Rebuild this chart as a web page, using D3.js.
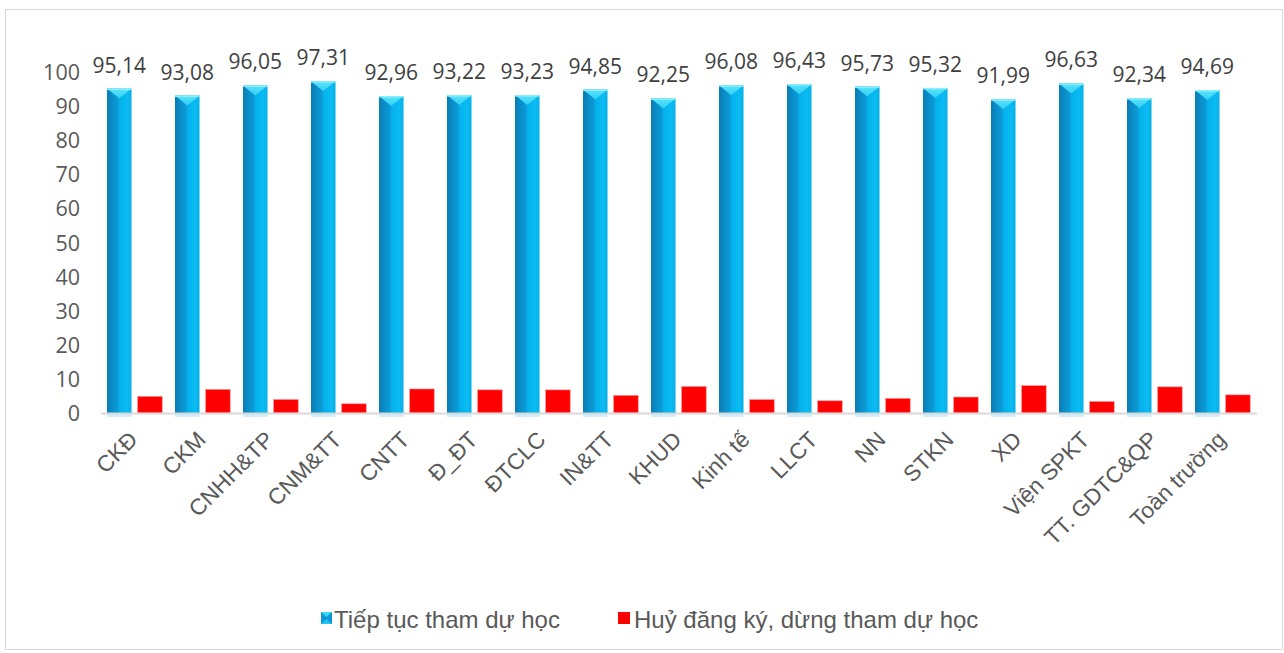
<!DOCTYPE html>
<html>
<head>
<meta charset="utf-8">
<script src="https://cdn.jsdelivr.net/npm/d3@7"></script>
<style>
  html, body { margin: 0; padding: 0; background: #ffffff; }
  svg { display: block; }
</style>
</head>
<body>
<svg id="chart" width="1284" height="653"></svg>
<script>
// Units (faculties / centres) shown along the x axis
const categories = ["CKĐ", "CKM", "CNHH&TP", "CNM&TT", "CNTT", "Đ_ĐT", "ĐTCLC", "IN&TT", "KHUD",
  "Kinh tế", "LLCT", "NN", "STKN", "XD", "Viện SPKT", "TT. GDTC&QP", "Toàn trường"];

// Percentage of students continuing their studies
const continuing = [95.14, 93.08, 96.05, 97.31, 92.96, 93.22, 93.23, 94.85, 92.25,
  96.08, 96.43, 95.73, 95.32, 91.99, 96.63, 92.34, 94.69];

// Percentage of students cancelling registration / stopping
const stopped = [4.86, 6.92, 3.95, 2.69, 7.04, 6.78, 6.77, 5.15, 7.75,
  3.92, 3.57, 4.27, 4.68, 8.01, 3.37, 7.66, 5.31];

const seriesNames = ["Tiếp tục tham dự học", "Huỷ đăng ký, dừng tham dự học"];
const yTicks = [0, 10, 20, 30, 40, 50, 60, 70, 80, 90, 100];

const svg = d3.select("#chart");
const W = 1284, H = 653;
const plot = { left: 101, right: 1257, top: 72, bottom: 413 };

// Outer chart frame
svg.append("rect")
  .attr("x", 5.5).attr("y", 9.5)
  .attr("width", W - 7).attr("height", H - 13)
  .attr("fill", "#ffffff").attr("stroke", "#d9d9d9").attr("stroke-width", 1);

// Gradients for the bevelled blue columns
const defs = svg.append("defs");
const g1 = defs.append("linearGradient").attr("id", "blueBody")
  .attr("x1", "0%").attr("x2", "100%").attr("y1", "0%").attr("y2", "0%");
g1.append("stop").attr("offset", "0%").attr("stop-color", "#0a7cb3");
g1.append("stop").attr("offset", "22%").attr("stop-color", "#0a8dc8");
g1.append("stop").attr("offset", "45%").attr("stop-color", "#0b9bd8");
g1.append("stop").attr("offset", "52%").attr("stop-color", "#06b1ec");
g1.append("stop").attr("offset", "85%").attr("stop-color", "#0abbf3");
g1.append("stop").attr("offset", "100%").attr("stop-color", "#0aaee3");

const g2 = defs.append("linearGradient").attr("id", "blueCap")
  .attr("x1", "0%").attr("x2", "0%").attr("y1", "0%").attr("y2", "100%");
g2.append("stop").attr("offset", "0%").attr("stop-color", "#5fe3fb");
g2.append("stop").attr("offset", "100%").attr("stop-color", "#2cd0f4");

// Scales
const x = d3.scaleBand().domain(categories).range([plot.left, plot.right]).padding(0);
const bw = x.bandwidth();
const xs = d3.scaleBand().domain(seriesNames)
  .range([bw * 0.088, bw * 0.9]).paddingInner(0.2);
const y = d3.scaleLinear().domain([0, 100]).range([plot.bottom, plot.top]);

// Y axis labels (no axis line, no ticks)
const yAxis = d3.axisLeft(y).tickValues(yTicks).tickSize(0).tickPadding(0)
  .tickFormat(d3.format("d"));
const gy = svg.append("g").attr("transform", `translate(80,0)`).call(yAxis);
gy.select(".domain").remove();
gy.selectAll("text")
  .attr("fill", "#595959")
  .style("font-family", "'Open Sans', sans-serif")
  .style("font-size", "21.5px")
  .attr("dy", "0.35em");

const groups = svg.append("g").selectAll("g")
  .data(categories.map((c, i) => ({ c, a: continuing[i], b: stopped[i] })))
  .join("g")
  .attr("transform", d => `translate(${x(d.c)},0)`);

const blueW = xs.bandwidth();
const capDepth = 10;

// Blue columns: body, a faint base reflection, and the bevel cap triangle
groups.append("rect")
  .attr("x", xs(seriesNames[0]))
  .attr("y", plot.bottom)
  .attr("width", blueW)
  .attr("height", 4)
  .attr("fill", "#cfeef9");

groups.append("rect")
  .attr("x", xs(seriesNames[0]))
  .attr("y", d => y(d.a))
  .attr("width", blueW)
  .attr("height", d => y(0) - y(d.a))
  .attr("fill", "url(#blueBody)");

groups.append("path")
  .attr("d", d => {
    const x0 = xs(seriesNames[0]), x1 = x0 + blueW, yt = y(d.a);
    return `M${x0},${yt} L${x1},${yt} L${(x0 + x1) / 2},${yt + capDepth} Z`;
  })
  .attr("fill", "url(#blueCap)");

groups.append("rect")
  .attr("x", xs(seriesNames[0]))
  .attr("y", d => y(d.a))
  .attr("width", blueW)
  .attr("height", 1.5)
  .attr("fill", "#8aeefc");

// Red columns
groups.append("rect")
  .attr("x", xs(seriesNames[1]))
  .attr("y", d => y(d.b))
  .attr("width", xs.bandwidth())
  .attr("height", d => y(0) - y(d.b))
  .attr("fill", "#ff0000")
  .attr("stroke", "#ff8a8a")
  .attr("stroke-width", 0.6);

// Value labels above the blue columns
groups.append("text")
  .attr("x", xs(seriesNames[0]) + blueW / 2)
  .attr("y", d => y(d.a) - 16)
  .attr("text-anchor", "middle")
  .attr("fill", "#404040")
  .style("font-family", "'Open Sans', sans-serif")
  .style("font-size", "21px")
  .text(d => d.a.toFixed(2).replace(".", ","));

// Baseline
svg.append("line")
  .attr("x1", plot.left).attr("x2", plot.right)
  .attr("y1", plot.bottom + 0.5).attr("y2", plot.bottom + 0.5)
  .attr("stroke", "#d9d9d9").attr("stroke-width", 2.2);

// X axis category labels, rotated 45°
const xAxis = d3.axisBottom(x).tickSize(0).tickPadding(0);
const gx = svg.append("g").attr("transform", `translate(0,${plot.bottom})`).call(xAxis);
gx.select(".domain").remove();
gx.selectAll("text")
  .attr("fill", "#595959")
  .style("font-family", "'Liberation Sans', Arial, sans-serif")
  .style("font-size", "22.5px")
  .attr("text-anchor", "end")
  .attr("dy", null)
  .attr("y", 0)
  .attr("transform", "translate(4,28) rotate(-45)");

// Legend
const legend = svg.append("g").attr("transform", "translate(321,612)");
const lg0 = legend.append("g");
lg0.append("rect").attr("width", 11).attr("height", 12).attr("fill", "#0b98d4");
lg0.append("path").attr("d", "M0,0 L11,0 L5.5,5 Z").attr("fill", "#3ed6f6");
lg0.append("path").attr("d", "M0,12 L11,12 L5.5,7 Z").attr("fill", "#22c4ef");
lg0.append("text").attr("x", 13).attr("y", 16)
  .attr("fill", "#595959")
  .style("font-family", "'Liberation Sans', Arial, sans-serif")
  .style("font-size", "24px")
  .text(seriesNames[0]);

const lg1 = legend.append("g").attr("transform", "translate(297,0)");
lg1.append("rect").attr("width", 12).attr("height", 12).attr("fill", "#ff0000");
lg1.append("text").attr("x", 16).attr("y", 16)
  .attr("fill", "#595959")
  .style("font-family", "'Liberation Sans', Arial, sans-serif")
  .style("font-size", "24px")
  .text(seriesNames[1]);
</script>
</body>
</html>
